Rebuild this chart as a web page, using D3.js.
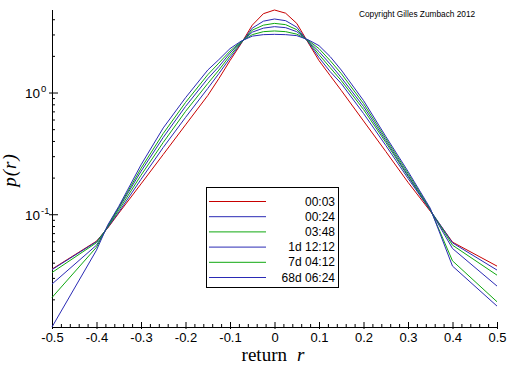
<!DOCTYPE html>
<html><head><meta charset="utf-8">
<script src="https://cdn.jsdelivr.net/npm/d3@7"></script>
<style>
html,body{margin:0;padding:0;background:#fff;}
svg{display:block;}
</style></head>
<body>
<script>
// ---- data ----
const returns = [-0.5,-0.4,-0.375,-0.35,-0.3,-0.25,-0.2,-0.15,-0.125,-0.1,-0.075,-0.05,-0.025,0,0.025,0.05,0.075,0.1,0.125,0.15,0.2,0.25,0.3,0.35,0.4,0.5];
const seriesNames = ["00:03","00:24","03:48","1d 12:12","7d 04:12","68d 06:24"];
const seriesColors = ["#c80000","#2a2ab4","#10a810","#2a2ab4","#10a810","#2a2ab4"];
const p_0003 = [0.0354,0.0601,0.0768,0.102,0.1775,0.310,0.542,0.945,1.302,1.829,2.521,3.575,4.442,4.763,4.484,3.698,2.594,1.829,1.378,1.04,0.584,0.328,0.183,0.106,0.0590,0.0375];
const p_0024 = [0.0351,0.0595,0.0775,0.104,0.1935,0.354,0.624,1.08,1.431,1.918,2.545,3.379,3.855,4.018,3.892,3.443,2.618,1.936,1.486,1.185,0.673,0.368,0.197,0.108,0.0582,0.0348];
const p_0348 = [0.0332,0.0584,0.0782,0.108,0.209,0.389,0.699,1.185,1.529,2.011,2.569,3.253,3.575,3.698,3.609,3.284,2.644,2.049,1.603,1.254,0.726,0.389,0.205,0.108,0.0557,0.0316];
const p_1d = [0.0267,0.0557,0.079,0.112,0.225,0.428,0.768,1.30,1.634,2.108,2.594,3.133,3.379,3.475,3.410,3.162,2.669,2.168,1.712,1.327,0.768,0.404,0.209,0.108,0.0523,0.0257];
const p_7d = [0.0207,0.0536,0.0798,0.114,0.238,0.461,0.828,1.40,1.745,2.189,2.618,2.988,3.162,3.204,3.162,3.017,2.694,2.295,1.829,1.43,0.812,0.42,0.217,0.110,0.0414,0.0191];
const p_68d = [0.01185,0.0507,0.0813,0.116,0.2545,0.512,0.906,1.53,1.864,2.295,2.644,2.905,2.988,3.005,2.988,2.933,2.719,2.428,1.973,1.53,0.86,0.436,0.225,0.112,0.0375,0.0176];
const seriesValues = [p_0003,p_0024,p_0348,p_1d,p_7d,p_68d];
const xMajorTicks = [-0.5,-0.4,-0.3,-0.2,-0.1,0,0.1,0.2,0.3,0.4,0.5];
const xTickLabels = ["-0.5","-0.4","-0.3","-0.2","-0.1","0","0.1","0.2","0.3","0.4","0.5"];
const yMajorTicks = [1,0.1];
const yMajorExp = ["0","-1"];
const yMinorTicks = [0.02,0.03,0.04,0.05,0.06,0.07,0.08,0.09,0.2,0.3,0.4,0.5,0.6,0.7,0.8,0.9,2,3,4];
const copyright = "Copyright Gilles Zumbach 2012";

// ---- layout ----
const W = 512, H = 366;
const mLeft = 52, mRight = 497, mTop = 10, mBottom = 327;

const svg = d3.select("body").append("svg").attr("width", W).attr("height", H);

const x = d3.scaleLinear().domain([-0.5, 0.5]).range([mLeft, mRight]);
const allVals = seriesValues.flat();
const y = d3.scaleLog().domain(d3.extent(allVals)).range([mBottom, mTop]);

const sans = "'Liberation Sans', Arial, sans-serif";
const serif = "'Liberation Serif', 'Times New Roman', serif";

// x minor ticks every 0.02
const xMinor = d3.range(-25, 26).map(i => i * 0.02).filter(v => Math.abs(Math.round(v * 10) - v * 10) > 1e-6);

const xAxisMinor = d3.axisBottom(x).tickValues(xMinor).tickSize(-3).tickFormat("");
const gxm = svg.append("g").attr("transform", `translate(0,${mBottom})`).call(xAxisMinor);
gxm.select(".domain").remove();

const xAxisMajor = d3.axisBottom(x).tickValues(xMajorTicks).tickSize(-5).tickFormat((d, i) => xTickLabels[i]);
const gx = svg.append("g").attr("transform", `translate(0,${mBottom})`).call(xAxisMajor);
gx.select(".domain").attr("d", `M${mLeft},0.5H${mRight}`);
gx.selectAll(".tick line").attr("y2", -5).attr("y1", 2);
gx.selectAll(".tick text").attr("y", 15).attr("dy", 0)
  .attr("font-family", sans).attr("font-size", 13).attr("fill", "#000");

const yAxisMinor = d3.axisLeft(y).tickValues(yMinorTicks).tickSize(-3).tickFormat("");
const gym = svg.append("g").attr("transform", `translate(${mLeft},0)`).call(yAxisMinor);
gym.select(".domain").remove();

const yAxisMajor = d3.axisLeft(y).tickValues(yMajorTicks).tickSize(-6).tickFormat("");
const gy = svg.append("g").attr("transform", `translate(${mLeft},0)`).call(yAxisMajor);
gy.select(".domain").attr("d", `M0.5,${mTop}V${mBottom}`);
gy.selectAll(".tick line").attr("x1", -3).attr("x2", 6);

yMajorTicks.forEach((v, i) => {
  const t = svg.append("text").attr("x", 25).attr("y", y(v) + 5.5)
    .attr("font-family", sans).attr("font-size", 13.5).attr("fill", "#000");
  t.append("tspan").text("10");
  t.append("tspan").attr("dy", -6).attr("dx", 1).attr("font-size", 9.5).text(yMajorExp[i]);
});

svg.selectAll(".tick line").attr("stroke", "#000");
svg.selectAll(".domain").attr("stroke", "#000");

// axis titles
const xt = svg.append("text").attr("x", 273).attr("y", 361).attr("text-anchor", "middle")
  .attr("font-family", serif).attr("font-size", 19).attr("fill", "#000");
xt.append("tspan").text("return");
xt.append("tspan").attr("dx", 10).attr("font-style", "italic").text("r");

svg.append("text").attr("transform", "translate(16,170) rotate(-90)").attr("text-anchor", "middle")
  .attr("font-family", serif).attr("font-size", 19).attr("font-style", "italic")
  .attr("letter-spacing", 1).attr("fill", "#000").text("p(r)");

// copyright
svg.append("text").attr("x", 359).attr("y", 17).attr("font-family", sans).attr("font-size", 8.3)
  .attr("fill", "#000").text(copyright);

// lines
const line = d3.line().x((d, i) => x(returns[i])).y(d => y(d));
svg.append("g").selectAll("path").data(seriesValues).join("path")
  .attr("d", line).attr("fill", "none").attr("stroke", (d, i) => seriesColors[i]).attr("stroke-width", 1);

// legend
const lg = svg.append("g");
lg.append("rect").attr("x", 206.5).attr("y", 187.5).attr("width", 132).attr("height", 100)
  .attr("fill", "#fff").attr("stroke", "#000");
seriesNames.forEach((n, i) => {
  const yy = 201 + i * 15.2;
  lg.append("line").attr("x1", 209).attr("x2", 266).attr("y1", yy + 0.5).attr("y2", yy + 0.5)
    .attr("stroke", seriesColors[i]);
  lg.append("text").attr("x", 335).attr("y", yy + 4.5).attr("text-anchor", "end")
    .attr("font-family", sans).attr("font-size", 12).attr("fill", "#000").text(n);
});
</script>
</body></html>
